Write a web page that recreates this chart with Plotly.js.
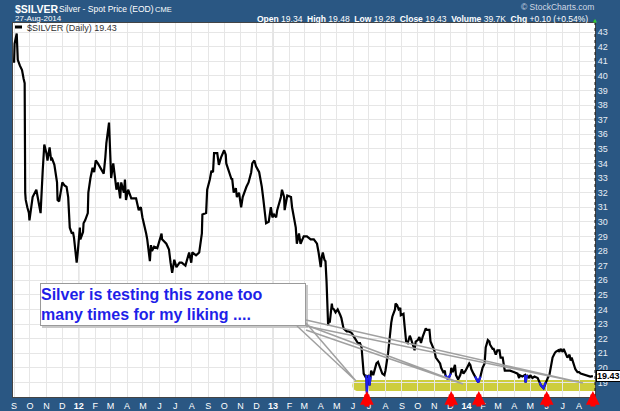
<!DOCTYPE html>
<html><head><meta charset="utf-8">
<script src="https://cdn.plot.ly/plotly-3.0.1.min.js"></script>
<style>html,body{margin:0;padding:0;background:#2a5783;}#chart{width:620px;height:411px;}</style>
</head><body><div id="chart"></div>
<script>
// ---- data ----
const dates = [
'2011-09-01','2011-09-02','2011-09-06','2011-09-07','2011-09-08','2011-09-12','2011-09-16','2011-09-19','2011-09-20','2011-09-21',
'2011-09-22','2011-09-23','2011-09-26','2011-09-29','2011-09-30','2011-10-06','2011-10-13','2011-10-14','2011-10-19','2011-10-21',
'2011-10-25','2011-10-28','2011-11-01','2011-11-03','2011-11-07','2011-11-10','2011-11-11','2011-11-16','2011-11-21','2011-11-22',
'2011-11-25','2011-11-29','2011-12-01','2011-12-05','2011-12-09','2011-12-12','2011-12-15','2011-12-19','2011-12-21','2011-12-23',
'2011-12-28','2011-12-30','2012-01-03','2012-01-04','2012-01-09','2012-01-10','2012-01-13','2012-01-18','2012-01-19','2012-01-23',
'2012-01-27','2012-01-30','2012-02-02','2012-02-06','2012-02-09','2012-02-13','2012-02-17','2012-02-20','2012-02-22','2012-02-27',
'2012-02-29','2012-03-01','2012-03-02','2012-03-06','2012-03-09','2012-03-12','2012-03-15','2012-03-19','2012-03-21','2012-03-26',
'2012-03-28','2012-03-30','2012-04-03','2012-04-09','2012-04-11','2012-04-18','2012-04-23','2012-04-27','2012-04-30','2012-05-03',
'2012-05-07','2012-05-09','2012-05-14','2012-05-16','2012-05-18','2012-05-22','2012-05-28','2012-06-05','2012-06-06','2012-06-14',
'2012-06-19','2012-06-22','2012-06-25','2012-06-29','2012-07-03','2012-07-09','2012-07-13','2012-07-20','2012-07-27','2012-07-31',
'2012-08-02','2012-08-09','2012-08-15','2012-08-20','2012-08-21','2012-08-28','2012-08-30','2012-09-04','2012-09-07','2012-09-10',
'2012-09-12','2012-09-18','2012-09-21','2012-09-25','2012-10-01','2012-10-04','2012-10-05','2012-10-15','2012-10-16','2012-10-19',
'2012-10-23','2012-10-25','2012-10-29','2012-11-02','2012-11-05','2012-11-12','2012-11-16','2012-11-21','2012-11-23','2012-11-27',
'2012-11-30','2012-12-06','2012-12-11','2012-12-14','2012-12-19','2012-12-24','2012-12-28','2012-12-31','2013-01-03','2013-01-07',
'2013-01-09','2013-01-16','2013-01-18','2013-01-22','2013-01-23','2013-01-28','2013-02-04','2013-02-06','2013-02-13','2013-02-15',
'2013-02-19','2013-02-22','2013-02-28','2013-03-06','2013-03-13','2013-03-19','2013-03-25','2013-03-28','2013-04-01','2013-04-03',
'2013-04-05','2013-04-08','2013-04-10','2013-04-12','2013-04-15','2013-04-16','2013-04-18','2013-04-22','2013-04-23','2013-04-26',
'2013-04-29','2013-05-03','2013-05-08','2013-05-10','2013-05-14','2013-05-17','2013-05-20','2013-05-23','2013-05-29','2013-06-03',
'2013-06-06','2013-06-10','2013-06-14','2013-06-17','2013-06-19','2013-06-21','2013-06-24','2013-06-26','2013-06-27','2013-06-28',
'2013-07-01','2013-07-02','2013-07-04','2013-07-05','2013-07-09','2013-07-12','2013-07-15','2013-07-18','2013-07-22','2013-07-24',
'2013-07-26','2013-07-30','2013-08-01','2013-08-06','2013-08-08','2013-08-12','2013-08-14','2013-08-19','2013-08-20','2013-08-23',
'2013-08-26','2013-08-29','2013-08-30','2013-09-04','2013-09-06','2013-09-09','2013-09-12','2013-09-16','2013-09-18','2013-09-20',
'2013-09-25','2013-09-27','2013-10-01','2013-10-04','2013-10-07','2013-10-10','2013-10-14','2013-10-16','2013-10-18','2013-10-23',
'2013-10-25','2013-10-29','2013-11-01','2013-11-04','2013-11-08','2013-11-12','2013-11-14','2013-11-18','2013-11-21','2013-11-22',
'2013-11-27','2013-12-02','2013-12-03','2013-12-06','2013-12-10','2013-12-12','2013-12-16','2013-12-20','2013-12-23','2013-12-26',
'2013-12-30','2014-01-02','2014-01-06','2014-01-08','2014-01-10','2014-01-14','2014-01-17','2014-01-23','2014-01-27','2014-01-29',
'2014-01-31','2014-02-04','2014-02-06','2014-02-10','2014-02-13','2014-02-14','2014-02-19','2014-02-21','2014-02-25','2014-02-28',
'2014-03-04','2014-03-06','2014-03-10','2014-03-13','2014-03-14','2014-03-19','2014-03-24','2014-04-01','2014-04-07','2014-04-10',
'2014-04-11','2014-04-16','2014-04-21','2014-04-22','2014-04-25','2014-04-29','2014-05-01','2014-05-05','2014-05-09','2014-05-15',
'2014-05-19','2014-05-21','2014-05-26','2014-05-28','2014-05-30','2014-06-03','2014-06-06','2014-06-09','2014-06-12','2014-06-16',
'2014-06-18','2014-06-23','2014-06-25','2014-06-27','2014-07-01','2014-07-03','2014-07-07','2014-07-10','2014-07-14','2014-07-16',
'2014-07-18','2014-07-23','2014-07-25','2014-07-29','2014-08-01','2014-08-04','2014-08-12','2014-08-18','2014-08-22','2014-08-27'
];
const prices = [
40.9,42.2,42.9,42.3,41.1,40.7,40.4,39.8,39.7,39.5,
32.0,31.5,31.0,30.6,30.1,31.7,32.2,32.0,31.0,30.6,
33.5,35.3,34.7,34.2,35.1,34.2,34.4,33.9,32.7,31.5,
31.4,32.5,32.7,32.5,32.4,31.7,29.6,29.2,29.3,28.9,
27.2,27.9,29.6,28.8,29.3,29.9,30.1,30.6,32.0,33.0,
33.7,33.4,34.2,34.0,33.8,33.5,33.3,34.4,35.4,36.8,
34.9,34.2,33.0,34.0,33.2,32.2,32.7,31.6,32.7,32.0,
32.9,31.5,32.2,31.6,31.6,31.6,30.8,31.0,30.3,29.9,
29.2,28.8,27.3,28.4,28.0,28.3,28.2,29.2,28.8,28.5,
28.1,27.2,26.5,27.4,26.9,27.2,27.2,27.0,27.9,27.2,
27.9,27.7,27.9,29.2,30.5,30.6,32.2,32.9,33.5,33.4,
34.7,34.7,33.9,34.4,34.9,34.6,34.0,32.9,33.0,32.0,
32.3,31.7,32.0,31.0,31.7,32.4,32.7,33.4,34.0,34.2,
33.8,33.4,32.4,31.5,29.9,30.0,31.0,30.3,30.5,30.3,
30.8,31.7,32.2,31.7,30.8,31.8,31.7,31.0,29.6,28.5,
29.2,28.5,29.0,29.0,28.8,28.8,28.5,27.9,26.9,27.6,
27.9,27.4,27.3,25.9,22.9,23.3,23.1,24.4,24.1,24.0,
23.8,24.0,23.6,23.4,22.7,22.6,22.5,22.5,22.4,22.1,
21.9,21.7,21.7,21.4,20.5,19.6,19.4,19.5,18.3,19.3,
19.5,18.8,19.4,19.8,19.5,19.9,20.3,20.4,20.0,19.8,
19.6,19.5,19.8,21.0,21.9,23.1,23.5,24.0,24.4,24.3,
24.0,24.1,23.6,23.7,22.9,21.8,21.7,22.2,22.0,21.8,
21.2,21.8,21.9,22.1,21.7,22.1,22.5,22.7,22.6,22.6,
21.8,21.4,21.2,20.7,20.5,20.3,20.0,19.7,19.8,19.5,
19.2,19.6,20.0,19.7,20.2,19.5,19.2,19.5,19.9,19.6,
19.8,20.0,20.3,20.2,19.9,19.6,19.4,19.0,19.4,19.7,
20.0,20.3,21.4,21.9,21.8,21.6,21.3,21.3,20.9,21.2,
21.2,20.7,20.7,20.0,19.8,19.8,19.8,19.7,19.6,19.3,
19.5,19.4,19.5,19.0,19.5,19.3,19.5,19.3,19.4,19.3,
19.0,18.8,18.6,18.8,19.0,19.3,19.5,20.0,20.7,21.0,
21.1,21.2,21.1,21.3,21.1,21.3,21.0,20.7,20.9,20.5,
20.7,20.0,19.9,19.7,19.7,19.6,19.5,19.4,19.4,19.43
];
// hand-drawn blue highlights of the lows
const blueDates = ['2013-06-26','2013-06-27','2013-06-28',null,'2013-07-01','2013-07-02','2013-07-04',null,
  '2013-11-22','2013-11-27','2013-12-02',null,'2014-01-17','2014-01-23','2014-01-27',null,
  '2014-04-21','2014-04-22','2014-04-25',null,'2014-05-19','2014-05-21','2014-05-26','2014-05-28','2014-05-30'];
const bluePrices = [19.5,18.3,19.3,null,19.5,18.8,19.4,null,
  19.5,19.2,19.6,null,19.4,19.0,19.4,null,
  19.5,19.0,19.5,null,19.0,18.8,18.6,18.8,19.0];
const monthTickDates = ['2011-09-01','2011-10-01','2011-11-01','2011-12-01',
 '2012-01-01','2012-02-01','2012-03-01','2012-04-01','2012-05-01','2012-06-01','2012-07-01','2012-08-01','2012-09-01','2012-10-01','2012-11-01','2012-12-01',
 '2013-01-01','2013-02-01','2013-03-01','2013-04-01','2013-05-01','2013-06-01','2013-07-01','2013-08-01','2013-09-01','2013-10-01','2013-11-01','2013-12-01',
 '2014-01-01','2014-02-01','2014-03-01','2014-04-01','2014-05-01','2014-06-01','2014-07-01','2014-08-01'];
const monthTickLabels = ['S','O','N','D',
 '<b>12</b>','F','M','A','M','J','J','A','S','O','N','D',
 '<b>13</b>','F','M','A','M','J','J','A','S','O','N','D',
 '<b>14</b>','F','M','A','M','J','J','A'];
const yearStarts = ['2012-01-01','2013-01-01','2014-01-01'];
const priceTicks = [19,20,21,22,23,24,25,26,27,28,29,30,31,32,33,34,35,36,37,38,39,40,41,42,43];
const arrowDates = ['2013-06-27','2013-12-03','2014-01-24','2014-06-01','2014-08-27'];
const lastClose = 19.43;
const headerStats = [['Open','19.34'],['High','19.48'],['Low','19.28'],['Close','19.43'],['Volume','39.7K'],['Chg','+0.10 (+0.54%)']];

// ---- geometry helpers (plot area in pixels) ----
const PL=13, PR=595, PT=23, PB=397;
const px = x => (x-PL)/(PR-PL);
const py = y => (PB-y)/(PB-PT);
const font = 'Arial, Liberation Sans, sans-serif';

const traces = [
  {x: dates, y: prices, type:'scatter', mode:'lines', line:{color:'#000000', width:2.2}, hoverinfo:'skip'},
  {x: blueDates, y: bluePrices, type:'scatter', mode:'lines', connectgaps:false, line:{color:'#2020f0', width:2.2}, hoverinfo:'skip'}
];

const shapes = [];
yearStarts.forEach(d => shapes.push({type:'line', xref:'x', yref:'paper', x0:d, x1:d, y0:0, y1:1, line:{color:'#c4c4c4', width:1}, layer:'below'}));
// highlighted zone band (rounded left end)
const bx = px(358), bt = py(380), bb = py(391);
shapes.push({type:'path', xref:'paper', yref:'paper', layer:'below',
  path:`M ${bx},${bt} L 1,${bt} L 1,${bb} L ${bx},${bb} C ${px(350.5)},${bb} ${px(350.5)},${bt} ${bx},${bt} Z`,
  fillcolor:'rgba(200,200,40,0.9)', line:{width:0}});
// callout shadow
shapes.push({type:'rect', xref:'paper', yref:'paper', x0:px(42), x1:px(308), y0:py(285), y1:py(328), fillcolor:'#c8c8c8', line:{width:0}});
// callout pointers
const wedges = [[[297,326],[306,323],[356,381]], [[306,325],[306,330],[463,384]], [[306,320],[306,326],[583,383]]];
wedges.forEach(w => shapes.push({type:'path', xref:'paper', yref:'paper',
  path:`M ${px(w[0][0])},${py(w[0][1])} L ${px(w[2][0])},${py(w[2][1])} L ${px(w[1][0])},${py(w[1][1])}`,
  line:{color:'#a0a0a0', width:1.5}}));
// legend dash
shapes.push({type:'line', xref:'paper', yref:'paper', x0:px(15), x1:px(22), y0:py(27), y1:py(27), line:{color:'#000', width:3}});
// dotted right border
shapes.push({type:'line', xref:'paper', yref:'paper', x0:1, x1:1, y0:0, y1:1, line:{color:'#1a1a1a', width:1, dash:'dot'}});

const annotations = [];
// header
annotations.push({xref:'paper', yref:'paper', x:px(13), y:py(9), xanchor:'left', yanchor:'middle', showarrow:false,
  text:'<b>$SILVER</b>', font:{family:font, size:10.5, color:'#ffffff'}});
annotations.push({xref:'paper', yref:'paper', x:px(57), y:py(9), xanchor:'left', yanchor:'middle', showarrow:false,
  text:'Silver - Spot Price (EOD)', font:{family:font, size:8.5, color:'#ffffff'}});
annotations.push({xref:'paper', yref:'paper', x:px(153), y:py(9), xanchor:'left', yanchor:'middle', showarrow:false,
  text:'CME', font:{family:font, size:7.5, color:'#ffffff'}});
annotations.push({xref:'paper', yref:'paper', x:px(13), y:py(19), xanchor:'left', yanchor:'middle', showarrow:false,
  text:'27-Aug-2014', font:{family:font, size:8, color:'#ffffff'}});
annotations.push({xref:'paper', yref:'paper', x:px(596), y:py(7), xanchor:'right', yanchor:'middle', showarrow:false,
  text:'© StockCharts.com', font:{family:font, size:8.5, color:'#d0d8e4'}});
annotations.push({xref:'paper', yref:'paper', x:px(590), y:py(19), xanchor:'right', yanchor:'middle', showarrow:false,
  text: headerStats.map(s => '<b>'+s[0]+'</b> '+s[1]).join('  '), font:{family:font, size:8.5, color:'#ffffff'}});
annotations.push({xref:'paper', yref:'paper', x:px(591), y:py(20), xanchor:'left', yanchor:'middle', showarrow:false,
  text:'▲', font:{family:'DejaVu Sans, sans-serif', size:5, color:'#33cc33'}});
// in-plot legend text
annotations.push({xref:'paper', yref:'paper', x:px(25), y:py(28), xanchor:'left', yanchor:'middle', showarrow:false,
  text:'$SILVER (Daily) 19.43', font:{family:font, size:9, color:'#333333'}});
// callout box
annotations.push({xref:'paper', yref:'paper', x:px(40), y:py(283), xanchor:'left', yanchor:'top', showarrow:false,
  width:264, height:41, align:'left', valign:'middle', bgcolor:'#ffffff', bordercolor:'#9a9a9a', borderwidth:1, borderpad:0,
  text:'<b>Silver is testing this zone too<br>many times for my liking ....</b>', font:{family:font, size:16, color:'#1f1fe8'}});
// last value tag
annotations.push({xref:'paper', yref:'y', x:1, y:lastClose, xanchor:'left', yanchor:'middle', showarrow:false, xshift:1,
  text:'<b>19.43</b>', bgcolor:'#ffffff', bordercolor:'#000000', borderwidth:1, borderpad:0, font:{family:font, size:9, color:'#000000'}});
// red arrows
arrowDates.forEach(d => annotations.push({xref:'x', yref:'paper', x:d, y:py(391), ax:0, ay:17, axref:'pixel', ayref:'pixel',
  showarrow:true, arrowhead:2, arrowsize:0.55, arrowwidth:5, arrowcolor:'#ff0000', text:''}));

const layout = {
  width:620, height:411,
  paper_bgcolor:'#2a5783', plot_bgcolor:'#ffffff',
  margin:{l:PL, r:620-PR, t:PT, b:411-PB},
  showlegend:false,
  xaxis:{type:'date', range:['2011-08-30','2014-08-31'], tickmode:'array', tickvals:monthTickDates, ticktext:monthTickLabels,
    showgrid:true, gridcolor:'#e6e6e6', gridwidth:1, ticks:'', tickangle:0, tickfont:{family:font, size:9, color:'#ffffff'},
    showline:true, linecolor:'#444', linewidth:1, mirror:true, zeroline:false, automargin:false},
  yaxis:{side:'right', range:[18.0, 43.62], tickmode:'array', tickvals:priceTicks, showgrid:true, gridcolor:'#e6e6e6', gridwidth:1,
    ticks:'', tickfont:{family:font, size:9, color:'#e8eef6'}, showline:true, linecolor:'#444', linewidth:1, mirror:true,
    zeroline:false, automargin:false},
  shapes:shapes, annotations:annotations
};
Plotly.newPlot('chart', traces, layout, {staticPlot:true, displayModeBar:false});
</script></body></html>
